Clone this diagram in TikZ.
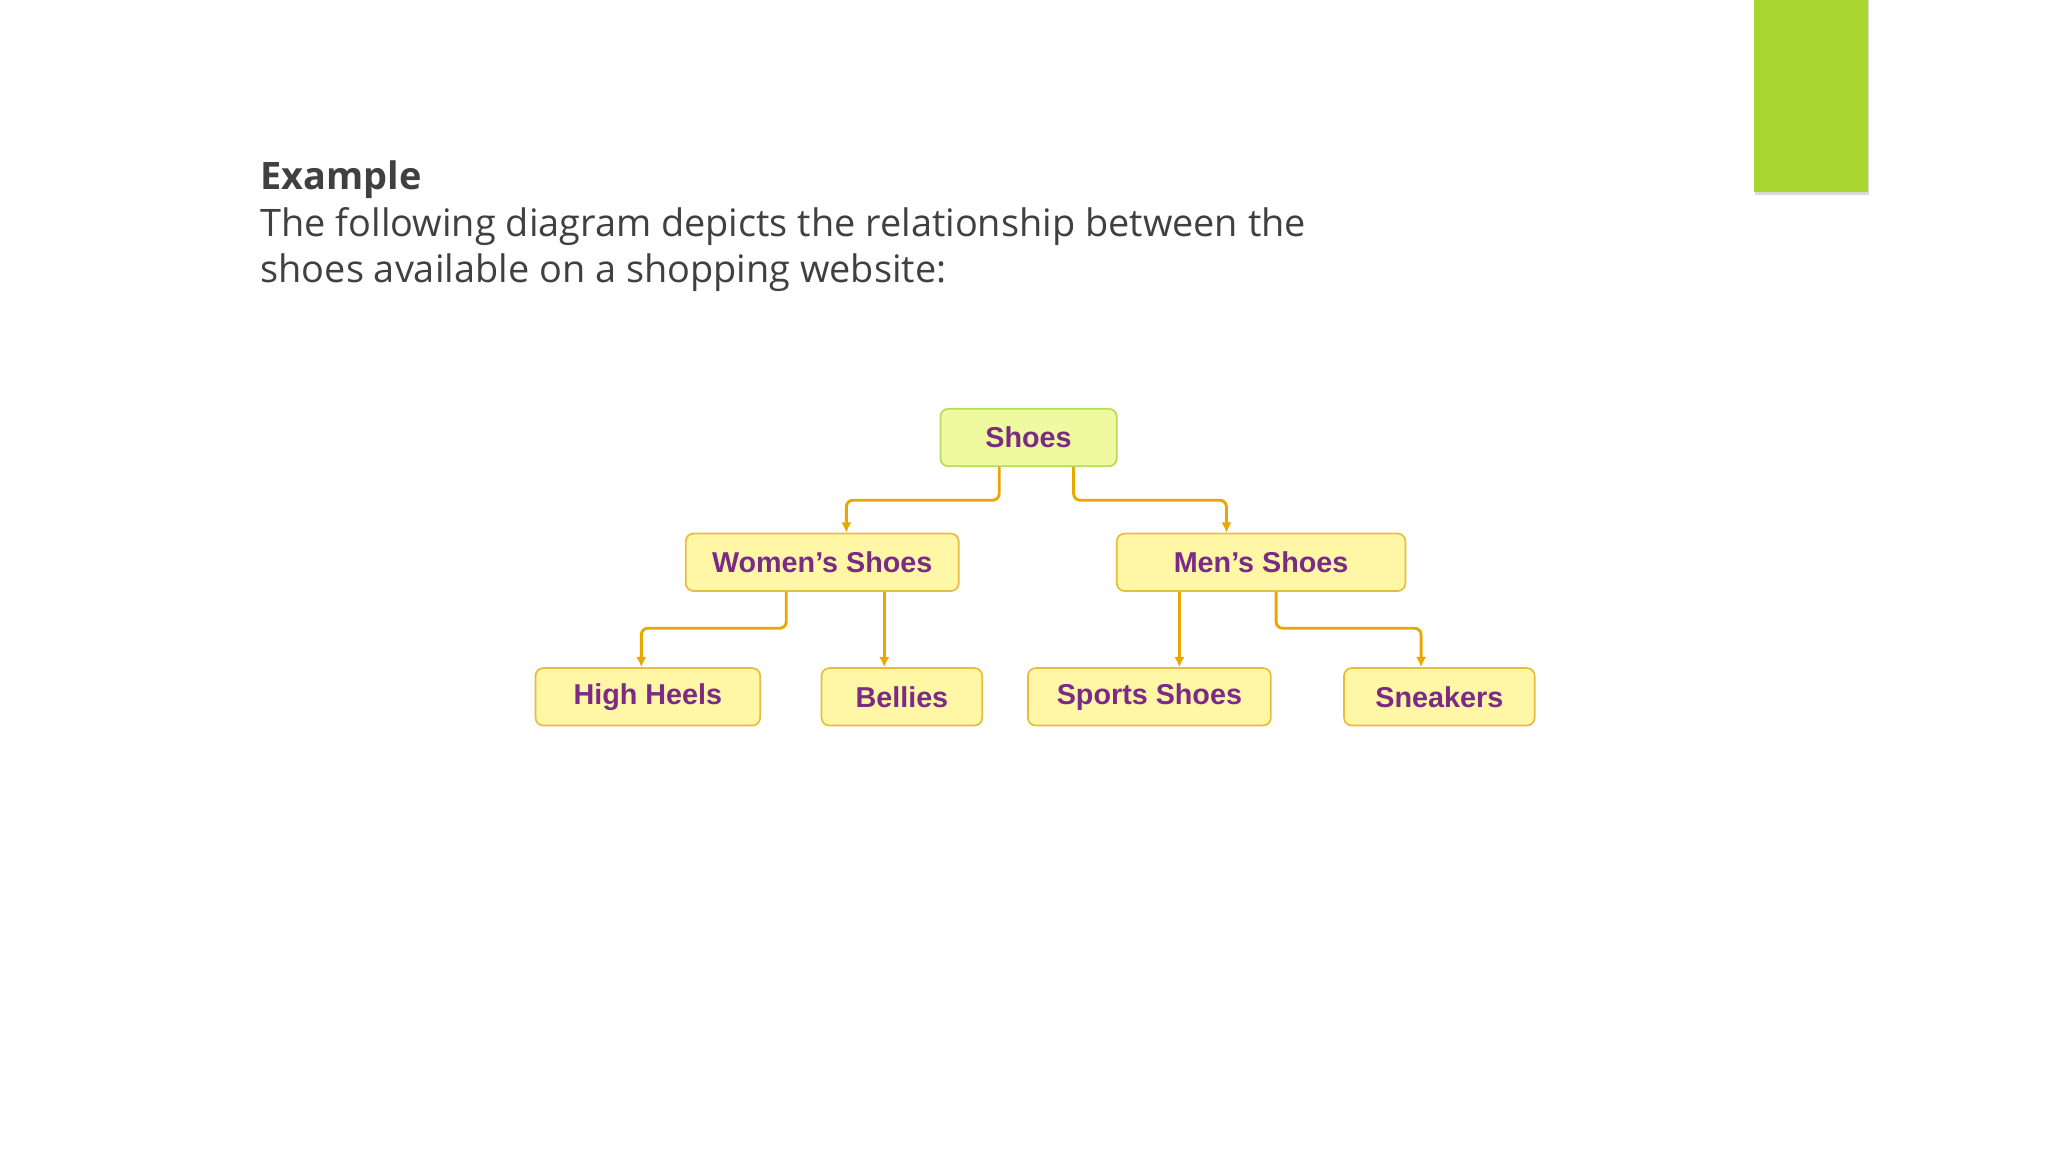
\documentclass[tikz,border=0pt]{standalone}
\usepackage{fontspec}
\setmainfont{Open Sans}
\newfontfamily\boxfont{Liberation Sans}
\usetikzlibrary{shadows,arrows.meta}
\definecolor{txt}{HTML}{404040}
\definecolor{purp}{HTML}{7B2A85}
\definecolor{conn}{HTML}{E8A800}
\definecolor{ybox}{HTML}{FFF6A6}
\definecolor{yedge}{HTML}{E6BE3C}
\definecolor{gbox}{HTML}{EEF9A0}
\definecolor{gedge}{HTML}{B4DC5A}
\definecolor{bar}{HTML}{A8D530}
\begin{document}
\begin{tikzpicture}[x=1pt,y=-1pt,
  cbox/.style={draw=yedge,fill=ybox,line width=1.3pt,rounded corners=6pt,minimum height=44pt,inner sep=0pt,font=\boxfont\bfseries\fontsize{22}{24}\selectfont,text=purp},
  gcbox/.style={cbox,draw=gedge,fill=gbox},
  conn/.style={draw=conn,line width=2.2pt,rounded corners=5pt,-{Latex[length=8pt,width=8pt]}}]
\useasboundingbox (0,0) rectangle (1568,882);
\fill[bar,drop shadow={shadow xshift=1pt,shadow yshift=-2pt,opacity=0.3}] (1343,-2) rectangle (1430,147);
\node[anchor=base west,text=txt,font=\bfseries\fontsize{29}{34}\selectfont] (ex) at (196,145) {Example};
\node[anchor=base west,text=txt,font=\fontsize{29}{34}\selectfont] (l1) at (196,181) {The following diagram depicts the relationship between the};
\node[anchor=base west,text=txt,font=\fontsize{29}{34}\selectfont] (l2) at (196,216) {shoes available on a shopping website:};
\node[gcbox,minimum width=135pt] (s) at (787.5,335) {Shoes};
\node[cbox,minimum width=209pt] (w) at (629.5,430.5) {Women’s Shoes};
\node[cbox,minimum width=221pt] (m) at (965.5,430.5) {Men’s Shoes};
\node[cbox,minimum width=172pt] (h) at (496,533.5) {High Heels};
\node[cbox,minimum width=123pt] (b) at (690.5,533.5) {Bellies};
\node[cbox,minimum width=186pt] (sp) at (880,533.5) {Sports Shoes};
\node[cbox,minimum width=146pt] (sn) at (1102,533.5) {Sneakers};
\draw[conn] (s.south -| 765,0) |- (706,383) -| (w.north -| 648,0);
\draw[conn] (s.south -| 822,0) |- (880,383) -| (m.north -| 939,0);
\draw[conn] (w.south -| 602,0) |- (546,481) -| (h.north -| 491,0);
\draw[conn] (w.south -| 677,0) -- (b.north -| 677,0);
\draw[conn] (m.south -| 903,0) -- (sp.north -| 903,0);
\draw[conn] (m.south -| 977,0) |- (1030,481) -| (sn.north -| 1088,0);
\end{tikzpicture}
\end{document}
